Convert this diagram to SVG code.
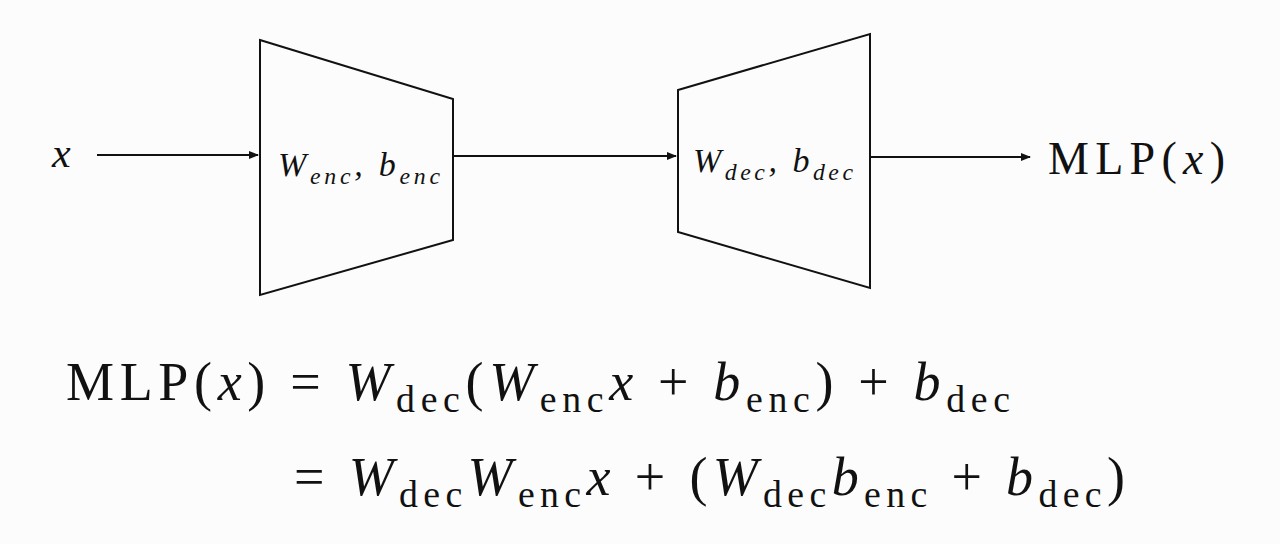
<svg xmlns="http://www.w3.org/2000/svg" width="1280" height="544" viewBox="0 0 1280 544">
<defs>
<style>
.s{fill:none;stroke:#111;stroke-width:2}
.t{font-family:"Liberation Serif",serif;fill:#111}
.i{font-style:italic}
.sub{font-size:70%}
</style>
<marker id="a" markerWidth="10" markerHeight="8" refX="9" refY="4" orient="auto" markerUnits="userSpaceOnUse"><path d="M0,0 L10,4 L0,8 Z" fill="#111"/></marker>
</defs>
<rect width="1280" height="544" fill="#fcfcfc"/>
<g id="connectors">
<line class="s" x1="97" y1="155" x2="258" y2="155" marker-end="url(#a)"/>
<line class="s" x1="453" y1="156" x2="676" y2="156" marker-end="url(#a)"/>
<line class="s" x1="870" y1="157" x2="1030" y2="157" marker-end="url(#a)"/>
</g>
<g id="x"><text class="t i" x="52" y="167" font-size="42">x</text></g>
<g id="enc">
<polygon class="s" points="260,40 453,99 453,240 260,295"/>
<text class="t i" x="278" y="176" font-size="34" textLength="162" lengthAdjust="spacing">W<tspan class="sub" dy="8">enc</tspan><tspan dy="-8">, b</tspan><tspan class="sub" dy="8">enc</tspan></text>
</g>
<g id="dec">
<polygon class="s" points="678,90 870,34 870,288 678,232"/>
<text class="t i" x="693" y="172" font-size="34" textLength="160" lengthAdjust="spacing">W<tspan class="sub" dy="8">dec</tspan><tspan dy="-8">, b</tspan><tspan class="sub" dy="8">dec</tspan></text>
</g>
<g id="out"><text class="t" x="1048" y="174" font-size="46" textLength="177" lengthAdjust="spacing">MLP(<tspan class="i">x</tspan>)</text></g>
<g id="eq">
<text class="t" x="66" y="400" font-size="54" textLength="944" lengthAdjust="spacing">MLP(<tspan class="i">x</tspan>) = <tspan class="i">W</tspan><tspan class="sub" dy="12">dec</tspan><tspan dy="-12">(</tspan><tspan class="i">W</tspan><tspan class="sub" dy="12">enc</tspan><tspan class="i" dy="-12">x</tspan> + <tspan class="i">b</tspan><tspan class="sub" dy="12">enc</tspan><tspan dy="-12">) + </tspan><tspan class="i">b</tspan><tspan class="sub" dy="12">dec</tspan></text>
<text class="t" x="294" y="495" font-size="54" textLength="831" lengthAdjust="spacing">= <tspan class="i">W</tspan><tspan class="sub" dy="12">dec</tspan><tspan class="i" dy="-12">W</tspan><tspan class="sub" dy="12">enc</tspan><tspan class="i" dy="-12">x</tspan> + (<tspan class="i">W</tspan><tspan class="sub" dy="12">dec</tspan><tspan class="i" dy="-12">b</tspan><tspan class="sub" dy="12">enc</tspan><tspan dy="-12"> + </tspan><tspan class="i">b</tspan><tspan class="sub" dy="12">dec</tspan><tspan dy="-12">)</tspan></text>
</g>
</svg>
